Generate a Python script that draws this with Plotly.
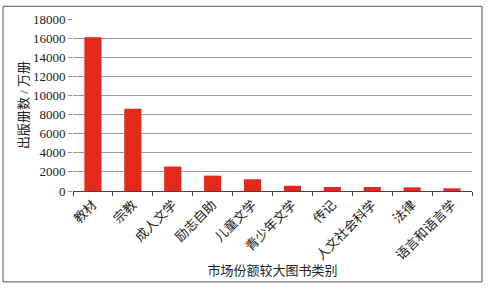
import plotly.graph_objects as go

categories = ["教材", "宗教", "成人文学", "励志自助", "儿童文学", "青少年文学",
              "传记", "人文社会科学", "法律", "语言和语言学"]
values = [16100, 8600, 2560, 1610, 1230, 550, 420, 420, 380, 280]
y_ticks = [0, 2000, 4000, 6000, 8000, 10000, 12000, 14000, 16000, 18000]

font_fam = "Liberation Serif, Noto Sans CJK SC, serif"

fig = go.Figure(go.Bar(x=categories, y=values, marker=dict(color="#E3291B", line=dict(width=0))))

fig.update_layout(
    width=488, height=293,
    margin=dict(l=73, r=16, t=15, b=102),
    paper_bgcolor="white", plot_bgcolor="white",
    bargap=0.57,
    showlegend=False,
    font=dict(family=font_fam, size=12, color="#222"),
    xaxis=dict(
        type="category", tickangle=-45, tickfont=dict(size=13, family=font_fam),
        ticks="outside", tickson="boundaries", ticklen=4, tickcolor="#444",
        showline=True, linecolor="#444", linewidth=1,
        title=dict(text="市场份额较大图书类别", font=dict(size=13), standoff=3),
    ),
    yaxis=dict(
        range=[0, 18000], tickvals=y_ticks, tickformat="d",
        tickfont=dict(size=13, family=font_fam),
        showgrid=True, gridcolor="#999", gridwidth=1,
        ticks="outside", ticklen=4, tickcolor="#999",
        zeroline=False, showline=False,
        title=dict(text="出版册数 / 万册", font=dict(size=13), standoff=1),
    ),
    shapes=[dict(type="rect", xref="paper", yref="paper",
                 x0=(3 - 73) / 399, x1=(482 - 73) / 399,
                 y0=(191 - 284) / 176, y1=(191 - 2) / 176,
                 line=dict(color="#555", width=1), fillcolor="rgba(0,0,0,0)", layer="below")],
)

fig.write_html("out.html")
